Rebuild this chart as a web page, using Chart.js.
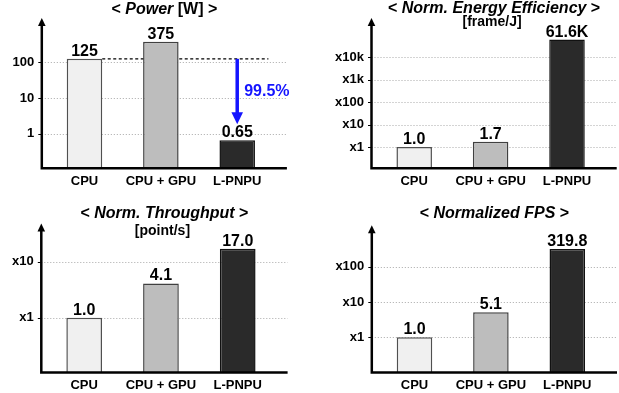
<!DOCTYPE html>
<html>
<head>
<meta charset="utf-8">
<script src="https://cdn.jsdelivr.net/npm/chart.js@4.4.1/dist/chart.umd.min.js"></script>
<style>
  html, body { margin: 0; padding: 0; background: #fff; }
  #wrap { position: relative; width: 619px; height: 393px; overflow: hidden; }
  canvas { position: absolute; }
</style>
</head>
<body>
<div id="wrap">
  <canvas id="power" width="310" height="196" style="left:0;top:0"></canvas>
  <canvas id="energy" width="309" height="196" style="left:310px;top:0"></canvas>
  <canvas id="throughput" width="310" height="197" style="left:0;top:196px"></canvas>
  <canvas id="fps" width="309" height="197" style="left:310px;top:196px"></canvas>
</div>
<script>
const FONT = "'Liberation Sans', Arial, Helvetica, sans-serif";

const categories = ['CPU', 'CPU + GPU', 'L-PNPU'];
const barColors = ['#f0f0f0', '#bdbdbd', '#2a2a2a'];
const barBorders = ['#505050', '#404040', '#111111'];

const powerValues = [125, 375, 0.65];
const powerLabels = ['125', '375', '0.65'];
const powerTicks = [1, 10, 100];
const powerTickLabels = ['1', '10', '100'];
const powerReduction = '99.5%';

const energyValues = [1.0, 1.7, 61600];
const energyLabels = ['1.0', '1.7', '61.6K'];
const energyTicks = [1, 10, 100, 1000, 10000];
const energyTickLabels = ['x1', 'x10', 'x100', 'x1k', 'x10k'];

const throughputValues = [1.0, 4.1, 17.0];
const throughputLabels = ['1.0', '4.1', '17.0'];
const throughputTicks = [1, 10];
const throughputTickLabels = ['x1', 'x10'];

const fpsValues = [1.0, 5.1, 319.8];
const fpsLabels = ['1.0', '5.1', '319.8'];
const fpsTicks = [1, 10, 100];
const fpsTickLabels = ['x1', 'x10', 'x100'];

const X_AXIS_H = 24;
const AXIS_SHIFT = -4.5;   // y axis line sits a bit left of the plot area
const AXIS_EXTEND = 11.5;  // x axis line runs past the last category

function drawTitle(ctx, parts, cx, cy, size) {
  ctx.textBaseline = 'middle';
  ctx.textAlign = 'left';
  let total = 0;
  const widths = parts.map(([txt, it]) => {
    ctx.font = (it ? 'italic ' : '') + 'bold ' + size + 'px ' + FONT;
    const w = ctx.measureText(txt).width;
    total += w;
    return w;
  });
  let x = cx - total / 2;
  parts.forEach(([txt, it], i) => {
    ctx.font = (it ? 'italic ' : '') + 'bold ' + size + 'px ' + FONT;
    ctx.fillText(txt, x, cy);
    x += widths[i];
  });
}

function decor(cfg) {
  return {
    id: 'decor',
    beforeDatasetsDraw(chart) {
      const { ctx, chartArea: ca, scales: { y } } = chart;
      const ax = ca.left + AXIS_SHIFT, end = ca.right + AXIS_EXTEND;
      ctx.save();
      y.ticks.forEach(t => {
        const py = Math.round(y.getPixelForValue(t.value)) + 0.5;
        ctx.strokeStyle = '#a8a8a8';
        ctx.lineWidth = 1;
        ctx.setLineDash([1, 2]);
        ctx.beginPath(); ctx.moveTo(ax, py); ctx.lineTo(end, py); ctx.stroke();
        ctx.setLineDash([]);
        ctx.strokeStyle = '#000';
        ctx.beginPath(); ctx.moveTo(ax - 3.5, py); ctx.lineTo(ax, py); ctx.stroke();
      });
      if (cfg.reduction) {
        // dashed reference line at the CPU level
        const bars = chart.getDatasetMeta(0).data;
        const ry = y.getPixelForValue(cfg.values[0]);
        ctx.strokeStyle = '#000';
        ctx.lineWidth = 1.3;
        ctx.setLineDash([3, 2.5]);
        ctx.beginPath();
        ctx.moveTo(bars[0].x + bars[0].width / 2, ry);
        ctx.lineTo(ca.right - 7, ry);
        ctx.stroke();
        ctx.setLineDash([]);
      }
      ctx.restore();
    },
    afterDatasetsDraw(chart) {
      const { ctx, chartArea: ca, scales: { y } } = chart;
      const ax = ca.left + AXIS_SHIFT, end = ca.right + AXIS_EXTEND;
      const bars = chart.getDatasetMeta(0).data;
      ctx.save();
      // value labels
      ctx.fillStyle = '#000';
      ctx.font = 'bold 16px ' + FONT;
      ctx.textAlign = 'center';
      ctx.textBaseline = 'alphabetic';
      bars.forEach((b, i) => ctx.fillText(cfg.labels[i], b.x, b.y - 3));

      // axes with arrow head
      ctx.strokeStyle = '#000';
      ctx.lineWidth = 2.5;
      ctx.beginPath();
      ctx.moveTo(ax, ca.bottom + 1.25);
      ctx.lineTo(ax, ca.top + 6);
      ctx.moveTo(ax - 1.25, ca.bottom);
      ctx.lineTo(end, ca.bottom);
      ctx.stroke();
      ctx.beginPath();
      ctx.moveTo(ax, ca.top);
      ctx.lineTo(ax - 3.8, ca.top + 8);
      ctx.lineTo(ax + 3.8, ca.top + 8);
      ctx.closePath();
      ctx.fill();

      // reduction arrow
      if (cfg.reduction) {
        const b = bars[2];
        const y1 = y.getPixelForValue(cfg.values[0]);
        const y2 = b.y - 16;
        ctx.strokeStyle = '#1414ff';
        ctx.fillStyle = '#1414ff';
        ctx.lineWidth = 3.5;
        ctx.beginPath();
        ctx.moveTo(b.x, y1);
        ctx.lineTo(b.x, y2 - 10);
        ctx.stroke();
        ctx.beginPath();
        ctx.moveTo(b.x, y2);
        ctx.lineTo(b.x - 5.8, y2 - 12);
        ctx.lineTo(b.x + 5.8, y2 - 12);
        ctx.closePath();
        ctx.fill();
        ctx.font = 'bold 16px ' + FONT;
        ctx.textAlign = 'left';
        ctx.textBaseline = 'middle';
        ctx.fillText(cfg.reduction, b.x + 7, (y1 + y2) / 2);
      }

      // titles
      ctx.fillStyle = '#000';
      const cx = (ax + end) / 2;
      drawTitle(ctx, cfg.title, cx, cfg.titleY, 16);
      if (cfg.subtitle) drawTitle(ctx, [[cfg.subtitle, false]], cx - 2, cfg.subtitleY, 14);
      ctx.restore();
    }
  };
}

function makePanel(cfg) {
  const A = cfg.area;
  return new Chart(document.getElementById(cfg.id), {
    type: 'bar',
    data: {
      labels: categories,
      datasets: [{
        data: cfg.values,
        backgroundColor: barColors,
        borderColor: barBorders,
        borderWidth: 1.5,
        barPercentage: 0.465,
        categoryPercentage: 1
      }]
    },
    options: {
      responsive: false,
      animation: false,
      events: [],
      layout: {
        padding: { left: 0, top: A.top, right: cfg.w - A.right, bottom: cfg.h - A.bottom - X_AXIS_H }
      },
      plugins: { legend: { display: false }, tooltip: { enabled: false }, title: { display: false } },
      scales: {
        x: {
          grid: { display: false },
          border: { display: false },
          ticks: {
            color: '#000', padding: -3, autoSkip: false, maxRotation: 0,
            font: { family: FONT, size: 13, weight: 'bold' }
          },
          afterFit: s => { s.height = X_AXIS_H; s.paddingLeft = 0; s.paddingRight = 0; }
        },
        y: {
          type: 'logarithmic',
          min: cfg.yMin,
          max: cfg.yMax,
          grid: { display: false },
          border: { display: false },
          ticks: {
            color: '#000', padding: 4,
            font: { family: FONT, size: 13, weight: 'bold' },
            callback: (v, i) => cfg.tickLabels[i]
          },
          afterBuildTicks: s => { s.ticks = cfg.ticks.map(v => ({ value: v })); },
          afterFit: s => { s.width = A.left; s.paddingTop = 0; s.paddingBottom = 0; }
        }
      }
    },
    plugins: [decor(cfg)]
  });
}

makePanel({
  id: 'power', w: 310, h: 196,
  area: { left: 46.3, right: 275.4, top: 18, bottom: 168.3 },
  yMin: 0.107, yMax: 1742,
  values: powerValues, labels: powerLabels,
  ticks: powerTicks, tickLabels: powerTickLabels,
  reduction: powerReduction,
  title: [['< ', false], ['Power', true], [' [W] >', false]], titleY: 9.5
});

makePanel({
  id: 'energy', w: 309, h: 196,
  area: { left: 66, right: 295.2, top: 18, bottom: 168.3 },
  yMin: 0.112, yMax: 563000,
  values: energyValues, labels: energyLabels,
  ticks: energyTicks, tickLabels: energyTickLabels,
  title: [['< ', false], ['Norm. Energy Efficiency', true], [' >', false]], titleY: 8.5,
  subtitle: '[frame/J]', subtitleY: 22
});

makePanel({
  id: 'throughput', w: 310, h: 197,
  area: { left: 45.8, right: 276.1, top: 27.5, bottom: 176.5 },
  yMin: 0.105, yMax: 48.1,
  values: throughputValues, labels: throughputLabels,
  ticks: throughputTicks, tickLabels: throughputTickLabels,
  title: [['< ', false], ['Norm. Throughput', true], [' >', false]], titleY: 18,
  subtitle: '[point/s]', subtitleY: 35.5
});

makePanel({
  id: 'fps', w: 309, h: 197,
  area: { left: 66.3, right: 295.5, top: 29.3, bottom: 176.5 },
  yMin: 0.1007, yMax: 1489,
  values: fpsValues, labels: fpsLabels,
  ticks: fpsTicks, tickLabels: fpsTickLabels,
  title: [['< ', false], ['Normalized FPS', true], [' >', false]], titleY: 17.5
});
</script>
</body>
</html>
